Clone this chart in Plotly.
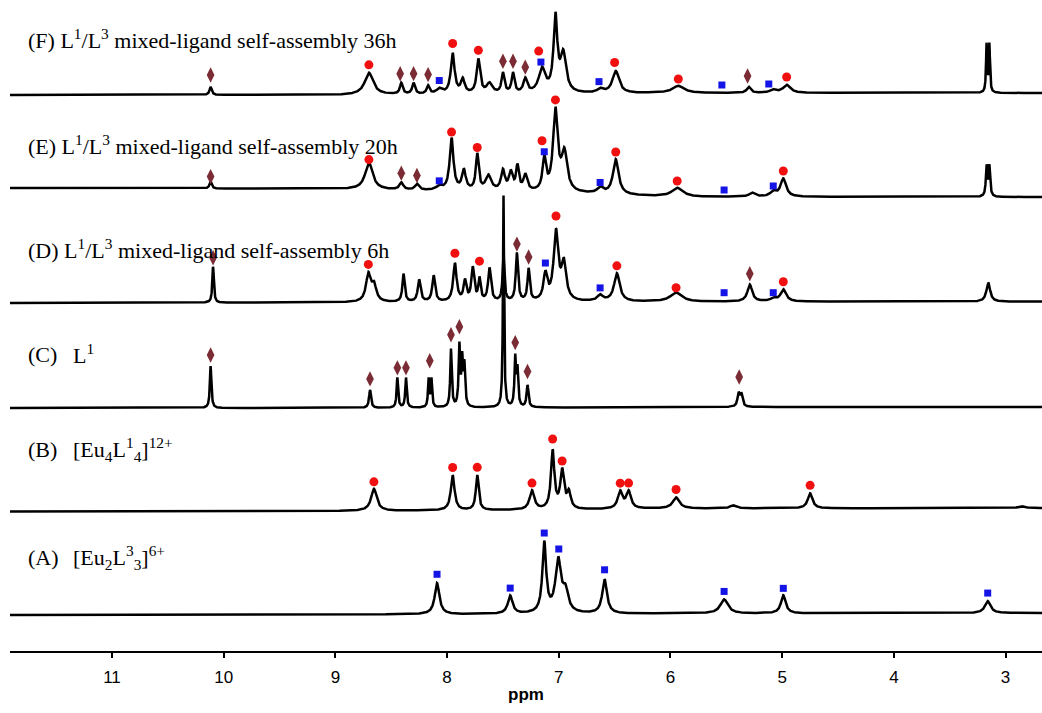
import numpy as np
import plotly.graph_objects as go

# ---------------- data (ppm positions, peak heights, half-widths) ----------------
base_ppm = [11.9, 9.0, 7.0, 6.0, 2.7]

# (A) [Eu2L3_3]6+
A_base = [36, 36.5, 37, 37.5, 38]
A_ppm = [8.09, 7.435, 7.13, 7.005, 6.94, 6.59, 5.52, 4.99, 3.16]
A_h = [31, 18, 70, 52, 20, 34, 14, 18, 12]
A_w = [0.025, 0.025, 0.02, 0.03, 0.03, 0.025, 0.04, 0.025, 0.03]
A_sq_ppm = [8.09, 7.435, 7.13, 7.0, 6.59, 5.52, 4.99, 3.16]
A_sq_h = [40, 26, 81, 65, 44, 22, 25, 20]

# (B) [Eu4L1_4]12+
B_base = [139.5, 140, 141, 142.5, 143]
B_ppm = [8.655, 7.95, 7.73, 7.24, 7.055, 6.97, 6.91, 6.45, 6.375, 5.95, 5.44, 4.75, 2.86]
B_h = [22, 35, 35, 19, 58, 38, 16, 17, 17, 11, 3, 15, 2]
B_w = [0.03, 0.02, 0.015, 0.025, 0.018, 0.02, 0.02, 0.025, 0.025, 0.035, 0.03, 0.025, 0.03]
B_ci_ppm = [8.655, 7.95, 7.73, 7.24, 7.055, 6.97, 6.45, 6.375, 5.95, 4.75]
B_ci_h = [29, 43, 43, 27, 71, 49, 26, 26, 19, 23]

# (C) L1
C_base = [243, 243, 243.5, 244, 244]
C_ppm = [10.117, 8.69, 8.445, 8.368, 8.165, 8.14, 7.965, 7.89, 7.865, 7.845,
         7.495, 7.39, 7.37, 7.28, 5.39, 5.365]
C_h = [42, 18, 30, 30, 28, 28, 58, 60, 45, 40, 212, 48, 36, 22, 13, 12]
C_w = [0.008, 0.01, 0.008, 0.008, 0.007, 0.007, 0.008, 0.008, 0.008, 0.008,
       0.006, 0.008, 0.008, 0.01, 0.012, 0.012]
C_di_ppm = [10.117, 8.69, 8.445, 8.368, 8.155, 7.965, 7.89, 7.39, 7.28, 5.385]
C_di_h = [53, 29, 40, 40, 47, 73, 81, 65, 36, 30]

# (D) 6h
D_base = [348, 348.5, 349, 349.3, 349.3]
D_ppm = [10.095, 8.705, 8.655, 8.39, 8.25, 8.12, 7.93, 7.84, 7.77, 7.71, 7.62, 7.495,
         7.375, 7.27, 7.12, 7.025, 6.955, 6.63, 6.48, 5.95, 5.29, 5.08, 4.99, 3.155]
D_h = [36, 27, 16, 28, 22, 26, 38, 20, 33, 22, 33, 45,
       48, 32, 26, 68, 36, 6, 28, 9, 17, 3, 12, 19]
D_w = [0.008, 0.025, 0.025, 0.012, 0.015, 0.015, 0.018, 0.015, 0.015, 0.012, 0.015, 0.01,
       0.012, 0.012, 0.02, 0.025, 0.025, 0.03, 0.03, 0.06, 0.025, 0.03, 0.03, 0.02]
D_ci_ppm = [8.705, 7.93, 7.71, 7.025, 6.48, 5.95, 4.99]
D_ci_h = [38, 49, 41, 86, 36, 14, 20]
D_sq_ppm = [7.12, 6.63, 5.52, 5.08]
D_sq_h = [39, 14, 9, 9]
D_di_ppm = [10.095, 7.375, 7.27, 5.29]
D_di_h = [45, 58, 45, 28]

# (E) 20h
E_base = [463, 462, 458, 454, 454]
E_ppm = [10.117, 8.70, 8.41, 8.27, 8.07, 7.96, 7.85, 7.73, 7.63, 7.50, 7.43, 7.37, 7.30,
         7.13, 7.03, 6.95, 6.63, 6.49, 5.94, 5.27, 5.08, 4.99, 3.17, 3.145]
E_h = [7, 27, 7, 6, 4, 52, 20, 36, 15, 20, 18, 24, 16,
       32, 80, 38, 6, 35, 9, 4, 5, 18, 30, 30]
E_w = [0.012, 0.04, 0.02, 0.02, 0.03, 0.02, 0.02, 0.015, 0.03, 0.02, 0.02, 0.015, 0.02,
       0.018, 0.025, 0.03, 0.03, 0.03, 0.06, 0.03, 0.03, 0.03, 0.008, 0.008]
E_ci_ppm = [8.70, 7.96, 7.73, 7.15, 7.03, 6.49, 5.94, 4.99]
E_ci_h = [30, 59, 44, 52, 93, 43, 16, 26]
E_sq_ppm = [8.07, 7.13, 6.63, 5.52, 5.08]
E_sq_h = [10, 41, 12, 7, 11]
E_di_ppm = [10.117, 8.41, 8.27]
E_di_h = [12, 17, 15]

# (F) 36h
F_base = [556, 556, 557, 558, 558]
F_ppm = [10.117, 8.70, 8.41, 8.30, 8.17, 8.07, 7.95, 7.86, 7.72, 7.62, 7.50, 7.41, 7.30,
         7.15, 7.03, 6.96, 6.63, 6.49, 5.93, 5.30, 5.08, 4.96, 3.17, 3.145]
F_h = [8, 22, 11, 11, 8, 5, 40, 14, 34, 10, 20, 20, 14,
       24, 74, 38, 4, 22, 7, 6, 3, 8, 48, 48]
F_w = [0.012, 0.045, 0.015, 0.015, 0.015, 0.03, 0.02, 0.02, 0.018, 0.03, 0.015, 0.015, 0.02,
       0.035, 0.02, 0.03, 0.03, 0.035, 0.06, 0.02, 0.03, 0.04, 0.006, 0.006]
F_ci_ppm = [8.70, 7.95, 7.72, 7.18, 6.50, 5.93, 4.96]
F_ci_h = [30, 51, 44, 43, 31, 14, 16]
F_sq_ppm = [8.07, 7.16, 6.64, 5.54, 5.12]
F_sq_h = [14, 32, 12, 8, 9]
F_di_ppm = [10.117, 8.42, 8.30, 8.17, 7.50, 7.41, 7.30, 5.31]
F_di_h = [20, 21, 21, 20, 33, 33, 27, 17]

tick_vals = [11, 10, 9, 8, 7, 6, 5, 4, 3]

# ---------------- build ----------------
grid = np.linspace(11.95, 2.6, 9000)


def spec(base, ppm, h, w):
    y = np.interp(grid, base_ppm[::-1], base[::-1])
    for c, a, g in zip(ppm, h, w):
        y = y + a / (1.0 + ((grid - c) / g) ** 2)
    return y


def mark_y(base, ppm, h):
    return [np.interp(p, base_ppm[::-1], base[::-1]) + hh for p, hh in zip(ppm, h)]


fig = go.Figure()
spectra = [
    (A_base, A_ppm, A_h, A_w),
    (B_base, B_ppm, B_h, B_w),
    (C_base, C_ppm, C_h, C_w),
    (D_base, D_ppm, D_h, D_w),
    (E_base, E_ppm, E_h, E_w),
    (F_base, F_ppm, F_h, F_w),
]
for b, p, h, w in spectra:
    fig.add_trace(go.Scatter(x=grid, y=spec(b, p, h, w), mode="lines",
                             line=dict(color="black", width=2.5), hoverinfo="skip"))

RED = "#f01010"
BLUE = "#1414e6"
BROWN = "#7a2b33"

circles = [(B_base, B_ci_ppm, B_ci_h), (D_base, D_ci_ppm, D_ci_h),
           (E_base, E_ci_ppm, E_ci_h), (F_base, F_ci_ppm, F_ci_h)]
squares = [(A_base, A_sq_ppm, A_sq_h), (D_base, D_sq_ppm, D_sq_h),
           (E_base, E_sq_ppm, E_sq_h), (F_base, F_sq_ppm, F_sq_h)]
diamonds = [(C_base, C_di_ppm, C_di_h), (D_base, D_di_ppm, D_di_h),
            (E_base, E_di_ppm, E_di_h), (F_base, F_di_ppm, F_di_h)]

for b, p, h in circles:
    fig.add_trace(go.Scatter(x=p, y=mark_y(b, p, h), mode="markers",
                             marker=dict(symbol="circle", size=9, color=RED, line=dict(width=0))))
for b, p, h in squares:
    fig.add_trace(go.Scatter(x=p, y=mark_y(b, p, h), mode="markers",
                             marker=dict(symbol="square", size=7, color=BLUE, line=dict(width=0))))
for b, p, h in diamonds:
    fig.add_trace(go.Scatter(x=p, y=mark_y(b, p, h), mode="markers",
                             marker=dict(symbol="diamond-tall", size=11, color=BROWN, line=dict(width=0))))

# ---------------- labels ----------------
lab_font = dict(family="Liberation Serif", size=22, color="black")
x_lab = 11.77
x_lab2 = 11.37
labels = [
    (x_lab, 612, "(F) L<sup>1</sup>/L<sup>3</sup> mixed-ligand self-assembly 36h"),
    (x_lab, 506, "(E) L<sup>1</sup>/L<sup>3</sup> mixed-ligand self-assembly 20h"),
    (x_lab, 402, "(D) L<sup>1</sup>/L<sup>3</sup> mixed-ligand self-assembly 6h"),
    (x_lab, 297, "(C)"),
    (x_lab2, 297, "L<sup>1</sup>"),
    (x_lab, 202, "(B)"),
    (x_lab2, 202, "[Eu<sub>4</sub>L<sup>1</sup><sub>4</sub>]<sup>12+</sup>"),
    (x_lab, 94, "(A)"),
    (x_lab2, 94, "[Eu<sub>2</sub>L<sup>3</sup><sub>3</sub>]<sup>6+</sup>"),
]
for x, y, t in labels:
    fig.add_annotation(x=x, y=y, text=t, showarrow=False, xanchor="left", yanchor="middle",
                       font=lab_font)

fig.update_layout(
    width=1042, height=713,
    margin=dict(l=10, r=0, t=0, b=62),
    paper_bgcolor="white", plot_bgcolor="white",
    showlegend=False,
    xaxis=dict(range=[11.913, 2.674], tickvals=tick_vals, ticktext=[str(v) for v in tick_vals],
               showgrid=False, zeroline=False, showline=True, linecolor="black", linewidth=2,
               ticks="outside", ticklen=5, tickwidth=2, tickcolor="black",
               tickfont=dict(family="Liberation Sans", size=17, color="black"),
               ticklabelstandoff=5,
               title=dict(text="<b>ppm</b>", font=dict(family="Liberation Sans", size=17, color="black"),
                          standoff=2)),
    yaxis=dict(range=[0, 651], visible=False, showgrid=False, zeroline=False),
)
fig.update_xaxes(tickprefix="<b>", ticksuffix="</b>")

fig.write_html("out.html", config={"displayModeBar": False},
               post_script="document.body.style.margin='0px';document.body.style.overflow='hidden';")
